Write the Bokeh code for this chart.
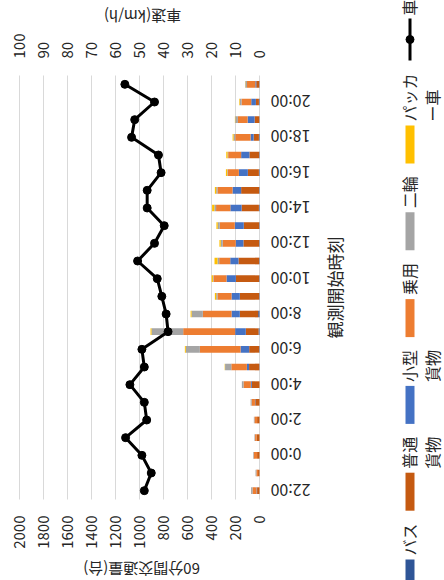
import math
from bokeh.plotting import figure
from bokeh.models import Range1d, FixedTicker, ColumnDataSource, Grid
from bokeh.embed import file_html
from bokeh.resources import INLINE
from bokeh.core.properties import value

# ---------------- data ----------------
hours = ["22:00", "23:00", "0:00", "1:00", "2:00", "3:00", "4:00", "5:00",
         "6:00", "7:00", "8:00", "9:00", "10:00", "11:00", "12:00", "13:00",
         "14:00", "15:00", "16:00", "17:00", "18:00", "19:00", "20:00", "21:00"]
bus     = [0, 0, 0, 0, 0, 0, 0, 2, 3, 8, 11, 3, 3, 3, 3, 3, 5, 3, 5, 3, 5, 2, 5, 2]
heavy   = [20, 12, 20, 25, 20, 35, 64, 85, 83, 106, 153, 161, 194, 172, 131, 128, 144, 150, 92, 81, 44, 39, 25, 25]
small   = [5, 0, 0, 0, 0, 3, 8, 18, 72, 89, 69, 69, 78, 69, 64, 75, 94, 72, 75, 69, 25, 58, 39, 8]
car     = [33, 14, 28, 12, 22, 28, 61, 130, 339, 433, 239, 117, 108, 92, 108, 125, 119, 125, 92, 108, 128, 81, 81, 69]
moto    = [12, 7, 5, 5, 5, 8, 14, 52, 117, 264, 94, 11, 5, 14, 17, 17, 14, 11, 5, 5, 14, 22, 14, 14]
packer  = [0, 0, 0, 0, 0, 0, 0, 3, 8, 8, 8, 11, 11, 25, 11, 11, 19, 11, 11, 11, 8, 3, 5, 2]
speed   = [48, 45.1, 49, 55.8, 47, 48, 54, 48, 49, 38.1, 38.9, 40.7, 42.6, 50.8, 43.75, 39.7,
           46.8, 46.8, 41, 42.1, 53.3, 52, 43.75, 56.1]

series_lines = [["バス"], ["普通", "貨物"], ["小型", "貨物"], ["乗用"], ["二輪"], ["パッカ", "ー車"]]
speed_name = "車速"
colors = ["#2F5597", "#C55A11", "#4472C4", "#ED7D31", "#A5A5A5", "#FFC000"]

traffic_ticks = list(range(0, 2001, 200))
speed_ticks = list(range(0, 101, 10))
x_title = "60分間交通量(台)"
speed_title = "車速(km/h)"
y_title = "観測開始時刻"

FONT = "Noto Sans CJK JP"
TXT = "#262626"

# ---------------- layout (canvas px) ----------------
W, H = 444, 580
FL, FR, FT, FB = 19, 259, 75, 499        # plot area
XMAX, SMAX = 2000, 100
NY = len(hours)
px_x = (FR - FL) / XMAX
px_s = (FR - FL) / SMAX
px_y = (FB - FT) / NY


def dx(cx):           # canvas x -> traffic data
    return (FR - cx) / px_x


def dy(cy):           # canvas y -> row index data
    return (NY - 0.5) - (cy - FT) / px_y


p = figure(width=W, height=H,
           x_range=Range1d(dx(0), dx(W)), y_range=Range1d(dy(H), dy(0)),
           x_axis_location=None, y_axis_location=None,
           output_backend="svg", toolbar_location=None, min_border=0)
p.outline_line_color = None
p.background_fill_color = "white"
p.grid.visible = False
p.extra_x_ranges = {"speed": Range1d((FR - 0) / px_s, (FR - W) / px_s)}

# vertical gridlines (0..2000), bounded to the plot area
p.add_layout(Grid(dimension=0, ticker=FixedTicker(ticks=traffic_ticks),
                  cross_bounds=(-0.5, NY - 0.5), grid_line_color="#D9D9D9",
                  grid_line_width=1))

# ---------------- bars + line ----------------
keys = ["bus", "heavy", "small", "car", "moto", "packer"]
src = ColumnDataSource(dict(idx=list(range(NY)), bus=bus, heavy=heavy, small=small,
                            car=car, moto=moto, packer=packer, speed=speed))
p.hbar_stack(keys, y="idx", height=0.38, color=colors, source=src, line_color=None)
p.line(x="speed", y="idx", source=src, x_range_name="speed", line_color="black", line_width=3)
p.scatter(x="speed", y="idx", source=src, x_range_name="speed", size=8, color="black")


def txt(x, y, t, angle, align, size, baseline="middle", **kw):
    p.text(x=x, y=y, text=t, angle=angle, text_align=align, text_baseline=baseline,
           text_font=value(FONT), text_font_size=size, text_color=TXT, **kw)


# traffic tick labels (bottom), reading bottom-to-top
txt(traffic_ticks, [dy(515)] * len(traffic_ticks), [str(t) for t in traffic_ticks],
    math.pi / 2, "right", "15px")
# speed tick labels (top)
txt(speed_ticks, [dy(58)] * len(speed_ticks), [str(t) for t in speed_ticks],
    math.pi / 2, "left", "15px", x_range_name="speed")
# time labels (every second hour), upside down
even = list(range(0, NY, 2))
txt([dx(270)] * len(even), even, [hours[i] for i in even], math.pi, "right", "16px")

# axis titles
txt([dx(333.5)], [dy((FT + FB) / 2)], [y_title], math.pi / 2, "center", "17px")
txt([dx(142)], [dy(16)], [speed_title], math.pi, "center", "15px")
txt([dx(141)], [dy(569)], [x_title], math.pi, "center", "15px")

# ---------------- legend (rotated) ----------------
sw_cx, sw_w, sw_h = 409.5, 9, 38
line1_cx, line2_cx = 408.5, 431.5
first_top = 559
step = 86.8
rx, ry, rw, rh, rc = [], [], [], [], []
tx, ty, tt = [], [], []
for i, (lines, c) in enumerate(zip(series_lines, colors)):
    top = first_top - i * step
    rx.append(dx(sw_cx)); ry.append(dy(top + sw_h / 2))
    rw.append(sw_w / px_x); rh.append(sw_h / px_y); rc.append(c)
    for j, ln in enumerate(lines):
        tx.append(dx(line1_cx if j == 0 else line2_cx)); ty.append(dy(top - 4)); tt.append(ln)
p.rect(x=rx, y=ry, width=rw, height=rh, color=rc, line_color=None)

sp_top, sp_len = 18, 42
p.line(x=[dx(sw_cx), dx(sw_cx)], y=[dy(sp_top), dy(sp_top + sp_len)], line_color="black", line_width=3)
p.scatter(x=[dx(sw_cx)], y=[dy(sp_top + sp_len / 2)], size=8, color="black")
tx.append(dx(line1_cx)); ty.append(dy(sp_top - 3)); tt.append(speed_name)
txt(tx, ty, tt, math.pi / 2, "left", "16px")

open("out.html", "w").write(file_html(p, INLINE))
